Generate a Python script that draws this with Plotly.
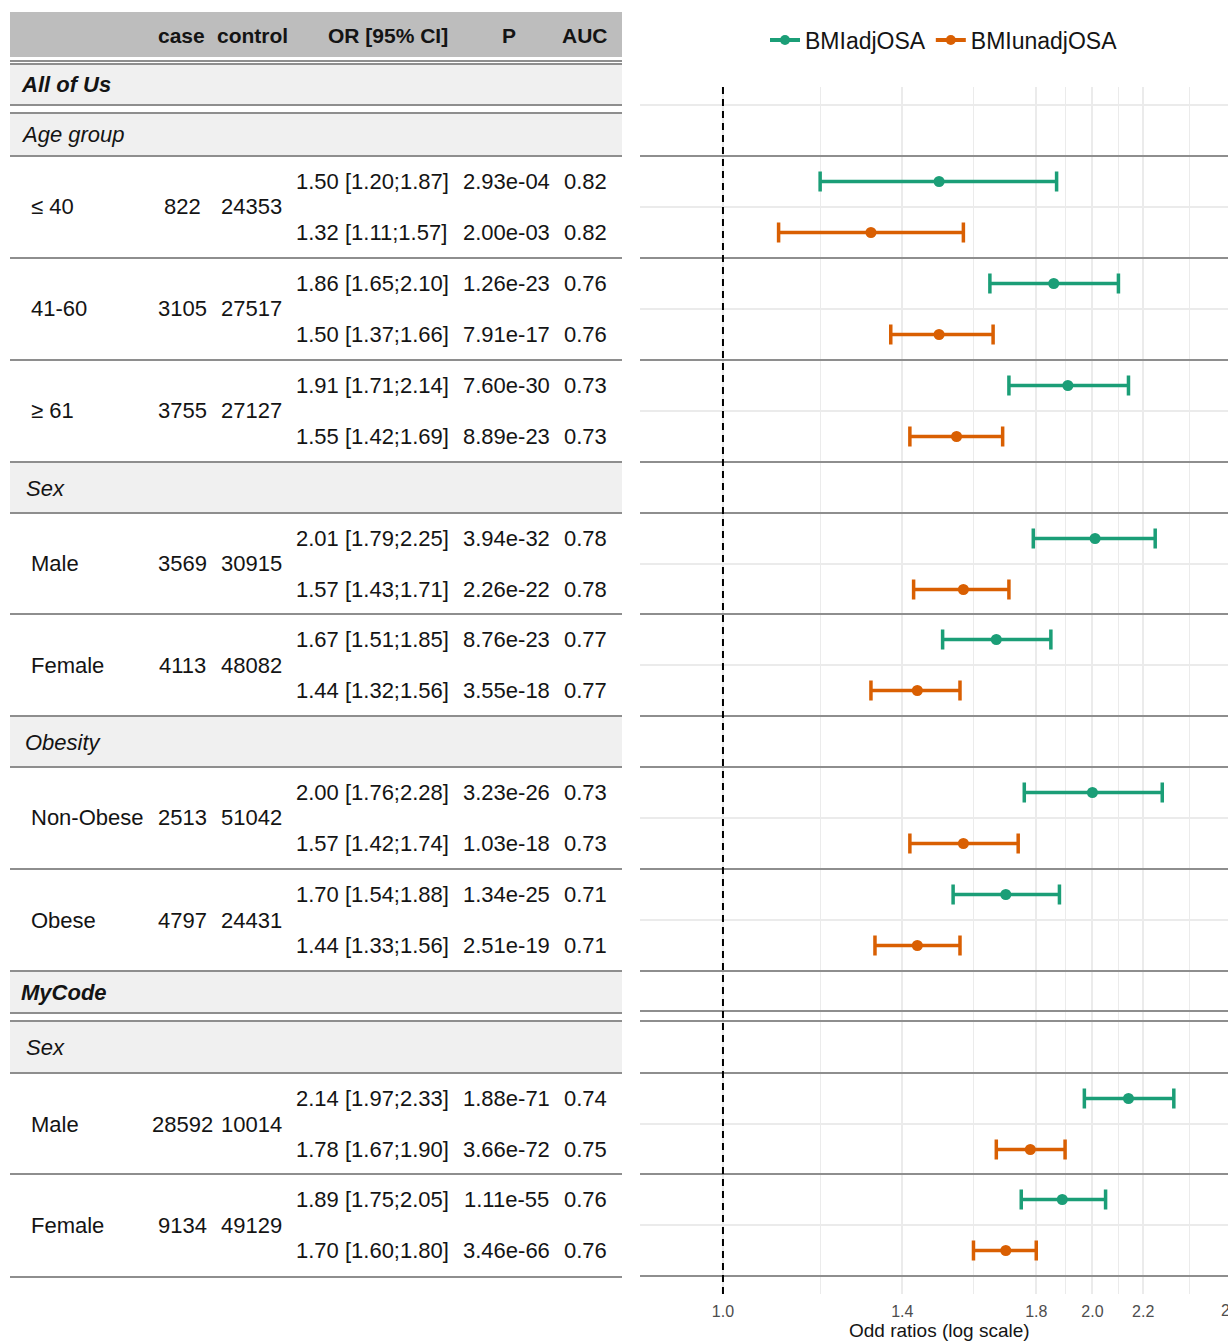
import math
import plotly.graph_objects as go

OFF = 0
W, H = 1228, 1342

# ---------------- data ----------------
series_names = ["BMIadjOSA", "BMIunadjOSA"]
groups = ["≤ 40", "41-60", "≥ 61", "Male", "Female", "Non-Obese", "Obese", "Male", "Female"]
cases = [822, 3105, 3755, 3569, 4113, 2513, 4797, 28592, 9134]
controls = [24353, 27517, 27127, 30915, 48082, 51042, 24431, 10014, 49129]

adj_or = [1.50, 1.86, 1.91, 2.01, 1.67, 2.00, 1.70, 2.14, 1.89]
adj_lo = [1.20, 1.65, 1.71, 1.79, 1.51, 1.76, 1.54, 1.97, 1.75]
adj_hi = [1.87, 2.10, 2.14, 2.25, 1.85, 2.28, 1.88, 2.33, 2.05]
adj_p = ["2.93e-04", "1.26e-23", "7.60e-30", "3.94e-32", "8.76e-23",
         "3.23e-26", "1.34e-25", "1.88e-71", "1.11e-55"]
adj_auc = [0.82, 0.76, 0.73, 0.78, 0.77, 0.73, 0.71, 0.74, 0.76]

unadj_or = [1.32, 1.50, 1.55, 1.57, 1.44, 1.57, 1.44, 1.78, 1.70]
unadj_lo = [1.11, 1.37, 1.42, 1.43, 1.32, 1.42, 1.33, 1.67, 1.60]
unadj_hi = [1.57, 1.66, 1.69, 1.71, 1.56, 1.74, 1.56, 1.90, 1.80]
unadj_p = ["2.00e-03", "7.91e-17", "8.89e-23", "2.26e-22", "3.55e-18",
           "1.03e-18", "2.51e-19", "3.66e-72", "3.46e-66"]
unadj_auc = [0.82, 0.76, 0.73, 0.78, 0.77, 0.73, 0.71, 0.75, 0.76]

cohort_labels = ["All of Us", "MyCode"]
section_labels = ["Age group", "Sex", "Obesity", "Sex"]
header_labels = ["case", "control", "OR [95% CI]", "P", "AUC"]
x_tick_vals = [1.0, 1.4, 1.8, 2.0, 2.2, 2.6]
x_tick_text = ["1.0", "1.4", "1.8", "2.0", "2.2", "2.6"]
x_minor_vals = [1.2, 1.6, 1.9, 2.1, 2.4]
x_title = "Odd ratios (log scale)"

# ---------------- layout constants (pixels) ----------------
GREEN = "#1B9E77"
ORANGE = "#D95F02"
TXT = "#141414"
LINE = "#8E8E8E"
GRID = "#EBEBEB"
FONT = "Liberation Sans, Arial, Helvetica, sans-serif"

group_tops = [156, 258, 360, 513, 614, 767, 869, 1073, 1174]
ROW = 51
cohort_boxes = [(64, 105), (972, 1013)]
section_boxes = [(113, 156), (463, 513), (717, 767), (1021, 1073)]
section_x = [19, 24, 23, 24]
table_lines = [61, 64, 105, 113, 156, 258, 360, 462, 513, 614, 716, 767,
               869, 971, 1013, 1021, 1073, 1174, 1277]
panel_lines = [156, 258, 360, 462, 513, 614, 716, 767, 869, 971, 1011,
               1021, 1073, 1174, 1276]
panel_extra_grid = [105]
TBL_X0, TBL_X1 = 10, 622
PANEL_X0, PANEL_X1 = 640, 1228
PANEL_Y0, PANEL_Y1 = 87, 1294
XR = [-0.0676, 0.4115]           # log10 range of the forest panel

col_case_x, col_ctrl_x = 182, 251
col_or_x, col_p_x, col_auc_x = 294, 506, 585
header_x = [181, 252, 388, 509, 585]
label_x = 29


def px(x):
    return (x - OFF) / W


def py(y):
    return 1 - (y - OFF) / H


fig = go.Figure()

# horizontal light gridlines in the forest panel (group centres + extra)
grid_y = panel_extra_grid + [t + ROW for t in group_tops]
gx, gy = [], []
for y in grid_y:
    gx += [0.7, 3.0, None]
    gy += [y, y, None]
fig.add_trace(go.Scatter(x=gx, y=gy, mode="lines", line=dict(color=GRID, width=1.8),
                         hoverinfo="skip", showlegend=False))

# darker separator lines in the forest panel
lx, ly = [], []
for y in panel_lines:
    lx += [0.7, 3.0, None]
    ly += [y, y, None]
fig.add_trace(go.Scatter(x=lx, y=ly, mode="lines", line=dict(color=LINE, width=2),
                         hoverinfo="skip", showlegend=False))

# reference line at OR = 1
fig.add_trace(go.Scatter(x=[1, 1], y=[PANEL_Y0, PANEL_Y1], mode="lines",
                         line=dict(color="black", width=2, dash="7px,5px"),
                         hoverinfo="skip", showlegend=False))

# forest points with CIs
for name, color, orv, lo, hi, off in [
    (series_names[0], GREEN, adj_or, adj_lo, adj_hi, ROW / 2),
    (series_names[1], ORANGE, unadj_or, unadj_lo, unadj_hi, ROW * 1.5),
]:
    ys = [t + off for t in group_tops]
    fig.add_trace(go.Scatter(
        x=orv, y=ys, mode="markers", name=name, showlegend=False,
        marker=dict(color=color, size=11),
        error_x=dict(type="data", symmetric=False,
                     array=[h - o for h, o in zip(hi, orv)],
                     arrayminus=[o - l for o, l in zip(orv, lo)],
                     color=color, thickness=3.5, width=10),
    ))
    fig.add_trace(go.Scatter(x=[None], y=[None], mode="lines+markers", name=name,
                             line=dict(color=color, width=4),
                             marker=dict(color=color, size=10)))

shapes = []
annotations = []

# header box
shapes.append(dict(type="rect", xref="paper", yref="paper", x0=px(TBL_X0), x1=px(TBL_X1),
                   y0=py(57), y1=py(12), fillcolor="#BDBDBD", line=dict(width=0), layer="below"))
for txt, x in zip(header_labels, header_x):
    annotations.append(dict(text="<b>%s</b>" % txt, x=px(x), y=py(35), xref="paper", yref="paper",
                            xanchor="center", yanchor="middle", showarrow=False,
                            font=dict(size=21, color=TXT, family=FONT)))

# light grey boxes for cohort and section rows
for (a, b) in cohort_boxes + section_boxes:
    shapes.append(dict(type="rect", xref="paper", yref="paper", x0=px(TBL_X0), x1=px(TBL_X1),
                       y0=py(b), y1=py(a), fillcolor="#F0F0F0", line=dict(width=0), layer="below"))

for txt, (a, b) in zip(cohort_labels, cohort_boxes):
    annotations.append(dict(text="<b><i>%s</i></b>" % txt, x=px(19), y=py((a + b) / 2),
                            xref="paper", yref="paper", xanchor="left", yanchor="middle",
                            showarrow=False, font=dict(size=22, color=TXT, family=FONT)))
for txt, (a, b), sx in zip(section_labels, section_boxes, section_x):
    annotations.append(dict(text="<i>%s</i>" % txt, x=px(sx), y=py((a + b) / 2),
                            xref="paper", yref="paper", xanchor="left", yanchor="middle",
                            showarrow=False, font=dict(size=22, color=TXT, family=FONT)))

# table lines
for y in table_lines:
    shapes.append(dict(type="line", xref="paper", yref="paper", x0=px(TBL_X0), x1=px(TBL_X1),
                       y0=py(y), y1=py(y), line=dict(color=LINE, width=2)))


def add_text(txt, x, y, anchor):
    annotations.append(dict(text=txt, x=px(x), y=py(y), xref="paper", yref="paper",
                            xanchor=anchor, yanchor="middle", showarrow=False,
                            font=dict(size=22, color=TXT, family=FONT)))


for i, t in enumerate(group_tops):
    mid = t + ROW
    add_text(groups[i], label_x, mid, "left")
    add_text(str(cases[i]), col_case_x, mid, "center")
    add_text(str(controls[i]), col_ctrl_x, mid, "center")
    for orv, lo, hi, p, auc, yy in [
        (adj_or, adj_lo, adj_hi, adj_p, adj_auc, t + ROW / 2),
        (unadj_or, unadj_lo, unadj_hi, unadj_p, unadj_auc, t + ROW * 1.5),
    ]:
        add_text("%.2f [%.2f;%.2f]" % (orv[i], lo[i], hi[i]), col_or_x, yy, "left")
        add_text(p[i], col_p_x, yy, "center")
        add_text("%.2f" % auc[i], col_auc_x, yy, "center")

# axis title and the clipped last tick label
annotations.append(dict(text=x_title, x=px(939), y=py(1330), xref="paper", yref="paper",
                        xanchor="center", yanchor="middle", showarrow=False,
                        font=dict(size=19, color=TXT, family=FONT)))
dom0, dom1 = px(PANEL_X0), px(PANEL_X1)
last = x_tick_vals[-1]
lastx = dom0 + (math.log10(last) - XR[0]) / (XR[1] - XR[0]) * (dom1 - dom0)
annotations.append(dict(text=x_tick_text[-1], x=lastx, y=py(1310), xref="paper", yref="paper",
                        xanchor="center", yanchor="middle", showarrow=False,
                        font=dict(size=16, color="#4D4D4D", family=FONT)))

fig.update_layout(
    width=W, height=H,
    margin=dict(l=0, r=0, t=0, b=0),
    paper_bgcolor="white", plot_bgcolor="white",
    font=dict(family=FONT, color=TXT),
    shapes=shapes, annotations=annotations,
    legend=dict(orientation="h", x=px(944), xanchor="center", y=py(40), yanchor="middle",
                font=dict(size=23, color=TXT, family=FONT), bgcolor="rgba(0,0,0,0)",
                itemwidth=30),
    xaxis=dict(type="log", range=XR, domain=[max(0, dom0), min(1, dom1)],
               tickmode="array", tickvals=x_tick_vals[:-1], ticktext=x_tick_text[:-1],
               showgrid=True, gridcolor=GRID, gridwidth=1.8, zeroline=False,
               showline=False, ticks="", ticklabelstandoff=6,
               tickfont=dict(size=16, color="#4D4D4D", family=FONT),
               minor=dict(tickvals=x_minor_vals, showgrid=True, gridcolor=GRID, gridwidth=1.4,
                          ticks="")),
    yaxis=dict(range=[PANEL_Y1, PANEL_Y0], domain=[py(PANEL_Y1), py(PANEL_Y0)],
               showgrid=False, zeroline=False, showticklabels=False, ticks="", showline=False),
)

# remove the default page margin so the figure fills the window exactly
fig.write_html("out.html",
               config={"displayModeBar": False},
               post_script="document.body.style.margin='0';"
                           "document.documentElement.style.overflow='hidden';")
